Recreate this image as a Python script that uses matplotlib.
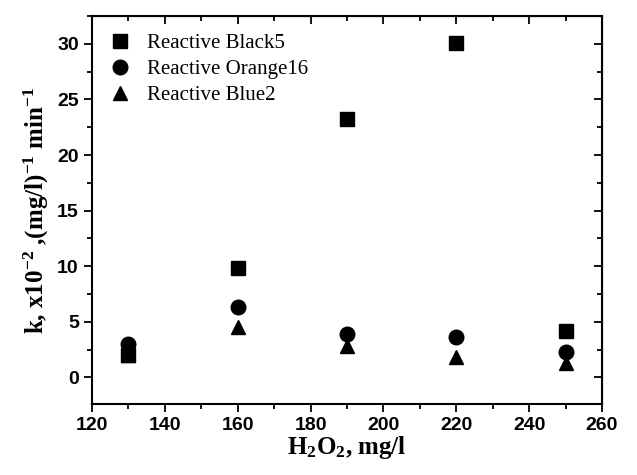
import matplotlib
matplotlib.use('Agg')
import matplotlib.pyplot as plt
from matplotlib.ticker import MultipleLocator

plt.rcParams['mathtext.default'] = 'regular'

h2o2 = [130, 160, 190, 220, 250]
black5 = [2.0, 9.8, 23.2, 30.1, 4.2]
orange16 = [3.0, 6.3, 3.9, 3.6, 2.3]
blue2 = [2.0, 4.5, 2.8, 1.8, 1.3]

fig = plt.figure(figsize=(6.37, 4.75), dpi=100)
ax = fig.add_axes([0.1444, 0.1495, 0.8006, 0.8165])

ax.plot(h2o2, black5, 's', color='black', ms=9.5, label='Reactive Black5')
ax.plot(h2o2, orange16, 'o', color='black', ms=10.5, label='Reactive Orange16')
ax.plot(h2o2, blue2, '^', color='black', ms=10.5, label='Reactive Blue2')

ax.set_xlim(120, 260)
ax.set_ylim(-2.4, 32.5)
ax.xaxis.set_major_locator(MultipleLocator(20))
ax.xaxis.set_minor_locator(MultipleLocator(10))
ax.yaxis.set_major_locator(MultipleLocator(5))
ax.yaxis.set_minor_locator(MultipleLocator(2.5))

for s in ax.spines.values():
    s.set_linewidth(1.5)
ax.tick_params(which='both', direction='out', width=1.3, top=False, right=False)
ax.tick_params(which='major', length=6)
ax.tick_params(which='minor', length=3.5)
ax.tick_params(labelsize=14)
for lab in ax.get_xticklabels() + ax.get_yticklabels():
    lab.set_fontfamily('Liberation Sans')
    lab.set_fontweight('bold')

# inward ticks on top and right
sec_x = ax.secondary_xaxis('top')
sec_x.xaxis.set_major_locator(MultipleLocator(20))
sec_x.xaxis.set_minor_locator(MultipleLocator(10))
sec_x.tick_params(which='both', direction='in', width=1.3, labeltop=False)
sec_x.tick_params(which='major', length=6)
sec_x.tick_params(which='minor', length=3.5)
sec_y = ax.secondary_yaxis('right')
sec_y.yaxis.set_major_locator(MultipleLocator(5))
sec_y.yaxis.set_minor_locator(MultipleLocator(2.5))
sec_y.tick_params(which='both', direction='in', width=1.3, labelright=False)
sec_y.tick_params(which='major', length=6)
sec_y.tick_params(which='minor', length=3.5)

ax.set_xlabel('H$_2$O$_2$, mg/l', fontfamily='Liberation Serif', fontweight='bold',
              fontsize=18, labelpad=0)
ax.set_ylabel('k, x10$^{-2}$ ,(mg/l)$^{-1}$ min$^{-1}$', fontfamily='Liberation Serif',
              fontweight='bold', fontsize=18, labelpad=4)

ax.legend(loc='upper left', frameon=False, prop={'family': 'Liberation Serif', 'size': 15},
          handlelength=1.0, handletextpad=0.8, labelspacing=0.3, borderaxespad=0.45,
          numpoints=1)

fig.savefig('out.png', dpi=100)
